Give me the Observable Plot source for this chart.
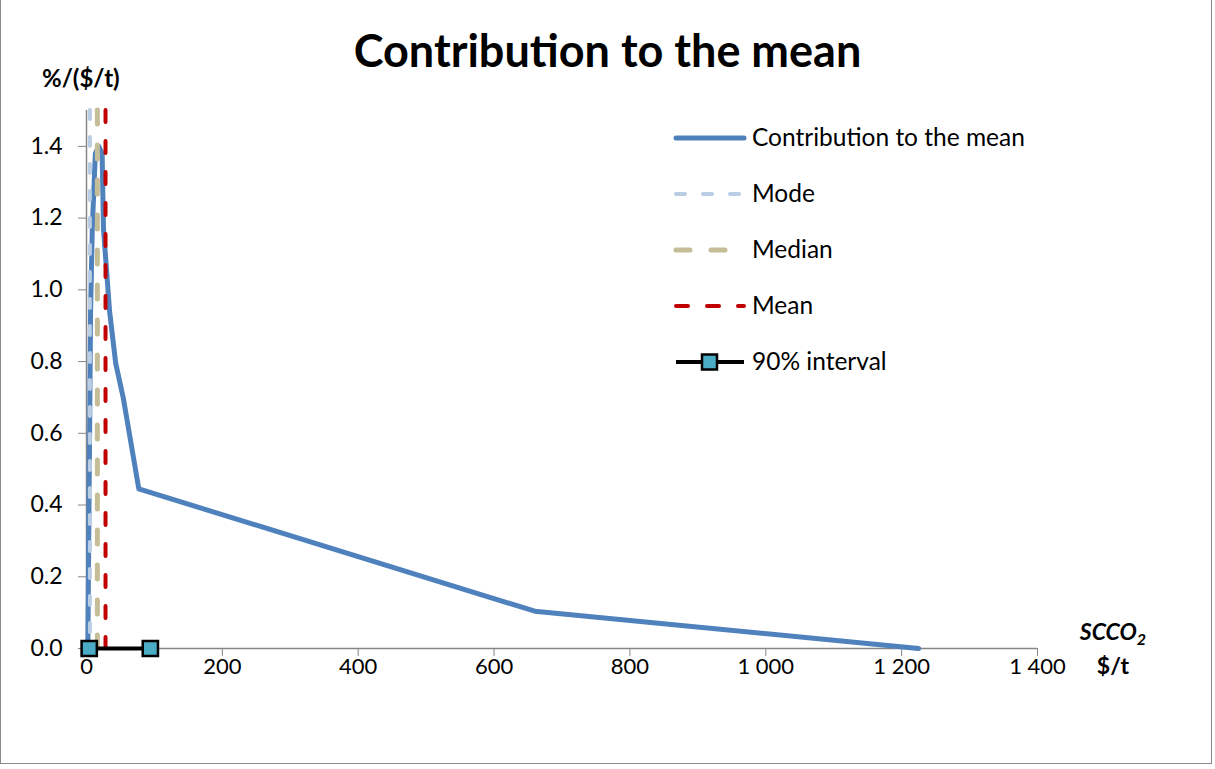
<!DOCTYPE html>
<html>
<head>
<meta charset="utf-8">
<script src="https://cdn.jsdelivr.net/npm/d3@7"></script>
<script src="https://cdn.jsdelivr.net/npm/@observablehq/plot@0.6"></script>
<style>
  html, body { margin: 0; padding: 0; background: #fff; }
  #wrap { position: relative; width: 1215px; height: 769px; font-family: Lato, "Open Sans", sans-serif; overflow: hidden; }
  #frame { position: absolute; left: 0; top: -2px; width: 1212px; height: 766px; border: 1.5px solid #8a8a8a; box-sizing: border-box; pointer-events: none; }
  #title { position: absolute; left: 0; width: 1215px; top: 23px; text-align: center; font-size: 45px; font-weight: bold; color: #000; }
  #ylabel { position: absolute; left: 42px; top: 63px; font-size: 24px; font-weight: bold; }
  .xl { position: absolute; left: 1058px; width: 110px; text-align: center; font-size: 23px; font-weight: bold; line-height: 30px; }
  #xl1 { top: 616px; font-style: italic; }
  #xl2 { top: 650px; }
  #xl1 sub { font-size: 16px; line-height: 0; vertical-align: -5px; }
  #chart { position: absolute; left: 0; top: 0; }
  #legend { position: absolute; left: 673px; top: 122px; }
  .row { position: absolute; left: 0; height: 32px; white-space: nowrap; font-size: 24.5px; }
  .row svg { position: absolute; left: 0; top: 0; }
  .row span { position: absolute; left: 79px; top: 0px; }
</style>
</head>
<body>
<div id="wrap">
  <div id="chart"></div>
  <div id="title">Contribution to the mean</div>
  <div id="ylabel">%/($/t)</div>
  <div class="xl" id="xl1">SCCO<sub>2</sub></div>
  <div class="xl" id="xl2">$/t</div>
  <div id="legend"></div>
  <div id="frame"></div>
</div>
<script>
// ---- data ----
const curveX = [2, 5, 6, 8.5, 13, 18, 23, 25, 34, 43, 54, 77, 660, 1225];
const curveY = [0, 0.7, 0.94, 1.17, 1.38, 1.40, 1.38, 1.17, 0.94, 0.795, 0.70, 0.445, 0.104, 0];
const modeX = 5;
const medianX = 16;
const meanX = 28;
const intervalX = [4, 94];
const xTicks = [0, 200, 400, 600, 800, 1000, 1200, 1400];
const yTicks = [0, 0.2, 0.4, 0.6, 0.8, 1.0, 1.2, 1.4];
const legendNames = ["Contribution to the mean", "Mode", "Median", "Mean", "90% interval"];

const colors = { curve: "#4F81BD", mode: "#B9CDE5", median: "#C4BD97", mean: "#C00000", interval: "#000000", marker: "#4BACC6" };

const curve = curveX.map((x, i) => ({ x, y: curveY[i] }));
const interval = intervalX.map(x => ({ x, y: 0 }));
const fmtX = d => d3.format(",")(d).replace(/,/g, " ");

const chart = Plot.plot({
  width: 1215,
  height: 769,
  marginLeft: 86,
  marginRight: 178,
  marginTop: 110,
  marginBottom: 121,
  style: { fontFamily: "Lato, 'Open Sans', sans-serif", fontSize: "22px", color: "#000", background: "transparent" },
  x: { domain: [0, 1400] },
  y: { domain: [0, 1.5] },
  marks: [
    Plot.axisX({ ticks: xTicks, tickFormat: fmtX, tickSize: 8, tickPadding: 2, stroke: "#868686", fill: "#000", fontSize: 22, label: null }),
    Plot.axisY({ ticks: yTicks, tickFormat: d3.format(".1f"), tickSize: 8, tickPadding: 16, stroke: "#868686", fill: "#000", fontSize: 23, label: null }),
    Plot.ruleX([0], { stroke: "#868686", strokeWidth: 1.5 }),
    Plot.ruleY([0], { stroke: "#868686", strokeWidth: 1.5 }),
    Plot.line(curve, { x: "x", y: "y", stroke: colors.curve, strokeWidth: 5, strokeLinejoin: "round" }),
    Plot.ruleX([modeX], { stroke: colors.mode, strokeWidth: 4, strokeDasharray: "9 18", strokeLinecap: "round" }),
    Plot.ruleX([medianX], { stroke: colors.median, strokeWidth: 5, strokeDasharray: "14 21", strokeLinecap: "round" }),
    Plot.ruleX([meanX], { stroke: colors.mean, strokeWidth: 4, strokeDasharray: "12 19", strokeLinecap: "round" }),
    Plot.line(interval, { x: "x", y: "y", stroke: colors.interval, strokeWidth: 4 }),
    Plot.dot(interval, { x: "x", y: "y", symbol: "square", r: 8.6, fill: colors.marker, stroke: "#000", strokeWidth: 2.5 })
  ]
});
document.getElementById("chart").appendChild(chart);

// ---- legend ----
const legendStyles = [
  { stroke: colors.curve, width: 5, dash: null, cap: "round" },
  { stroke: colors.mode, width: 4, dash: "9 18", cap: "round" },
  { stroke: colors.median, width: 5, dash: "14 21", cap: "round" },
  { stroke: colors.mean, width: 4, dash: "12 19", cap: "round" },
  { stroke: colors.interval, width: 4, dash: null, cap: "butt", marker: true }
];
const legend = document.getElementById("legend");
legendNames.forEach((name, i) => {
  const s = legendStyles[i];
  const row = document.createElement("div");
  row.className = "row";
  row.style.top = (i * 56) + "px";
  const svg = d3.create("svg").attr("width", 76).attr("height", 32);
  svg.append("line").attr("x1", 3).attr("x2", 71).attr("y1", 16).attr("y2", 16)
    .attr("stroke", s.stroke).attr("stroke-width", s.width)
    .attr("stroke-linecap", s.cap).attr("stroke-dasharray", s.dash);
  if (s.marker) {
    svg.append("rect").attr("x", 29).attr("y", 8.5).attr("width", 15).attr("height", 15)
      .attr("fill", colors.marker).attr("stroke", "#000").attr("stroke-width", 2.5);
  }
  row.appendChild(svg.node());
  const span = document.createElement("span");
  span.textContent = name;
  row.appendChild(span);
  legend.appendChild(row);
});
</script>
</body>
</html>
